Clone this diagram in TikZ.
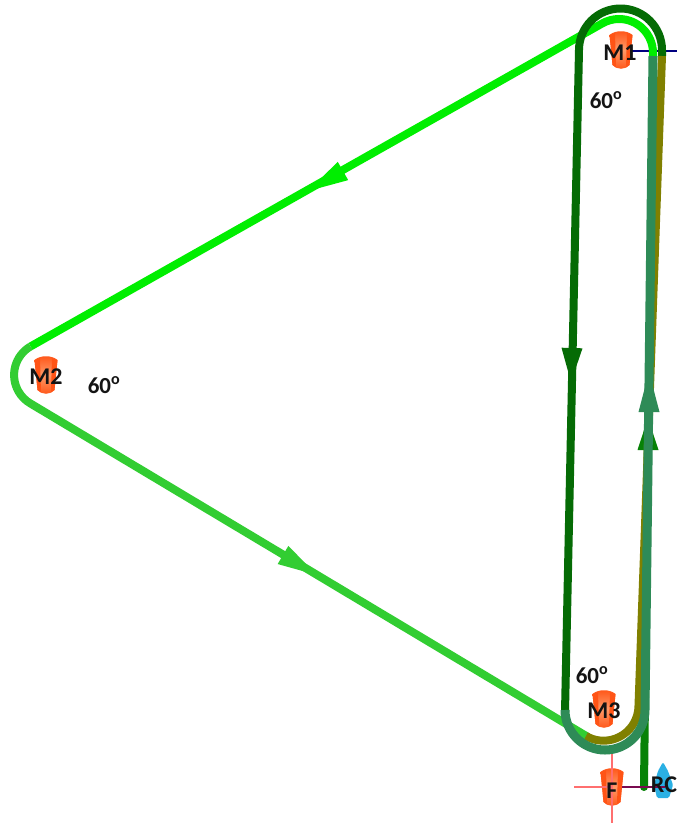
\documentclass[tikz,border=0pt]{standalone}
\usepackage{fontspec}
\setmainfont{Carlito}
\usetikzlibrary{calc}
\definecolor{brightg}{HTML}{00EE00}
\definecolor{limeg}{HTML}{32CD32}
\definecolor{darkg}{HTML}{056B05}
\definecolor{seag}{HTML}{2E8B57}
\definecolor{oliveg}{HTML}{808000}
\definecolor{feedg}{HTML}{078207}
\definecolor{crossr}{HTML}{FF6F6F}
\definecolor{cylo}{HTML}{FF5416}
\definecolor{cyll}{HTML}{FF9A68}
\definecolor{rcblue}{HTML}{2BB0E4}
\definecolor{purp}{HTML}{7A0A50}
\tikzset{
  beam/.style={line width=#1,line cap=butt,line join=round},
  lab/.style={font=\bfseries\fontsize{24}{24}\selectfont,inner sep=0pt,text=black!92},
  ang/.style={font=\bfseries\fontsize{23}{23}\selectfont,inner sep=0pt,text=black!92},
}
\newcommand{\cyl}[3]{% name, centre x, centre y
  \begin{scope}[shift={(#2,#3)}]
    \shade[left color=cylo,right color=cylo,middle color=cyll,shading angle=0]
      (-11.5,-15) .. controls (-6,-20) and (6,-20) .. (11.5,-15)
      -- (8.5,15) .. controls (4,20) and (-4,20) .. (-8.5,15) -- cycle;
    \fill[cylo] (-11.5,-15) -- (-8.5,15) .. controls (-7,16) and (-6,16.5) .. (-5,17.5) -- (-6,-17) -- cycle;
    \fill[cylo] (11.5,-15) -- (8.5,15) .. controls (7,16) and (6,16.5) .. (5,17.5) -- (6,-17) -- cycle;
    \coordinate (#1) at (0,0);
  \end{scope}}
\newcommand{\ahead}[3]{% tip, base, colour
  \fill[#3] (#1) -- ($(#2)!10.5pt!90:(#1)$) -- ($(#2)!10.5pt!-90:(#1)$) -- cycle;}
\begin{document}
\begin{tikzpicture}[x=1pt,y=-1pt]
\useasboundingbox (0,0) rectangle (677,823);
\fill[white] (0,0) rectangle (677,823);
% devices
\cyl{cM1}{621}{50}
\cyl{cM2}{46}{375}
\cyl{cM3}{604}{709}
\cyl{cF}{612}{787}
\fill[rcblue,rounded corners=1.5pt] (663,762) -- (668,771) -- (673,785) -- (669,798) -- (657,798) -- (654,785) -- (658,771) -- cycle;
\coordinate (cRC) at (665,785);
\coordinate (crossW) at (574,787);
\coordinate (crossN) at (612,748);
\coordinate (crossS) at (612,823);
% thin lines
\draw[crossr,line width=1.8pt] (crossW) -- (cF);
\draw[crossr,line width=1.8pt] (crossN) -- (crossS);
\coordinate (blueE) at (677,51);
\draw[blue!50!black,line width=2pt] (cM1) ++(11,1) -- (blueE);
% feed beam
\draw[feedg,beam=8pt,line cap=round] (644,787) -- (648,430);
\ahead{648,418}{648,450}{feedg}
% triangle path
\draw[brightg,beam=8pt] (653,60) -- (653,53) arc[start angle=360,end angle=240,radius=34]
  -- (30.6,346.4);
\draw[limeg,beam=8pt] (30.6,346.4) arc[start angle=240,end angle=120,radius=33] -- (588,737);
\ahead{317,575}{283,555}{limeg}
\ahead{308,191}{343,171}{brightg}
% dark loop
\draw[darkg,beam=8pt] (565,712) -- (579,50) arc[start angle=180,end angle=360,radius=41.5] -- (662,56);
\ahead{571,382}{572,348}{darkg}
% olive
\draw[oliveg,beam=8pt] (586,736) arc[start angle=120,end angle=0,radius=35] -- (662,56);
% sea green
\draw[seag,beam=9pt] (565,710) arc[start angle=180,end angle=0,radius=40] -- (653,56);
\ahead{649,372}{649,412}{seag}
% purple
\draw[purp,line width=2.8pt] (cF) ++(10,0) -- (cRC |- cF);
% labels
\node[lab] (M1) at (620,53) {M1};
\node[lab] (M2) at (46,377) {M2};
\node[lab] (M3) at (604,711) {M3};
\node[lab] (F) at (612,791) {F};
\node[lab] (RC) at (664,785) {RC};
\node[ang] (a1) at (606,100) {60\textsuperscript{o}};
\node[ang] (a2) at (104,385) {60\textsuperscript{o}};
\node[ang] (a3) at (592,675) {60\textsuperscript{o}};
\end{tikzpicture}
\end{document}
